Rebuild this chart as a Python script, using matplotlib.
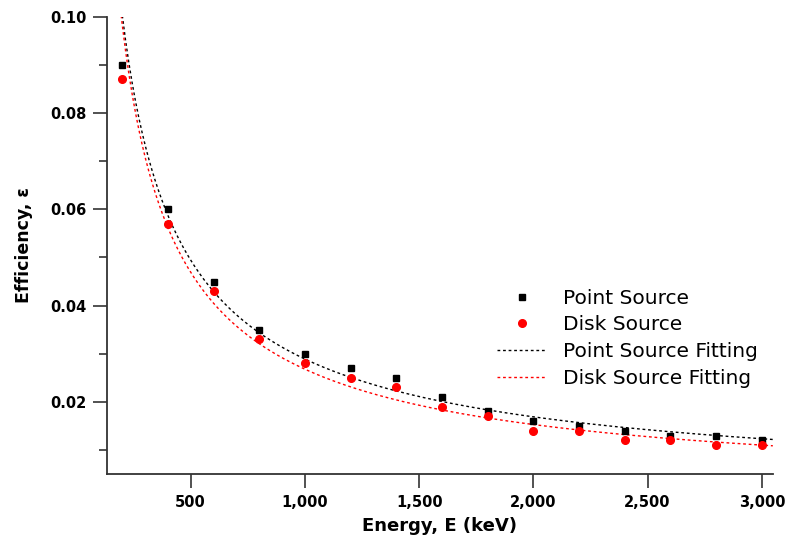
import matplotlib.pyplot as plt
import numpy as np
from matplotlib.ticker import FuncFormatter, MultipleLocator

plt.rcParams["font.family"] = ["DejaVu Sans"]

energy = [200, 400, 600, 800, 1000, 1200, 1400, 1600, 1800, 2000,
          2200, 2400, 2600, 2800, 3000]
point_eff = [0.090, 0.060, 0.045, 0.035, 0.030, 0.027, 0.025, 0.021, 0.018, 0.016,
             0.015, 0.014, 0.013, 0.013, 0.012]
disk_eff = [0.087, 0.057, 0.043, 0.033, 0.028, 0.025, 0.023, 0.019, 0.017, 0.014,
            0.014, 0.012, 0.012, 0.011, 0.011]


def power_fit(x, y):
    # least squares in log-log space: eff = a * E^b
    b, log_a = np.polyfit(np.log(x), np.log(y), 1)
    return np.exp(log_a), b


fig = plt.figure(figsize=(7.87, 5.39), dpi=100)
ax = fig.add_axes([0.136, 0.1206, 0.846, 0.848])

e_fit = np.linspace(150, 3048, 400)
for eff, color, name in [(point_eff, "black", "Point Source"),
                         (disk_eff, "red", "Disk Source")]:
    a, b = power_fit(energy, eff)
    ax.plot(e_fit, a * e_fit ** b, color=color, lw=1.0, ls=(0, (2, 2)),
            label=f"{name} Fitting", zorder=2)

ax.plot(energy, point_eff, ls="none", marker="s", ms=5, color="black",
        label="Point Source", zorder=3)
ax.plot(energy, disk_eff, ls="none", marker="o", ms=5.5, color="red",
        label="Disk Source", zorder=3)

ax.set_xlim(134, 3048)
ax.set_ylim(0.005, 0.10)
ax.yaxis.set_major_locator(MultipleLocator(0.02))
ax.yaxis.set_minor_locator(MultipleLocator(0.01))
ax.xaxis.set_major_locator(MultipleLocator(500))
ax.yaxis.set_major_formatter(FuncFormatter(lambda v, _: f"{v:.2f}"))
ax.xaxis.set_major_formatter(FuncFormatter(lambda v, _: f"{v:,.0f}"))

for side in ("top", "right"):
    ax.spines[side].set_visible(False)
for side in ("left", "bottom"):
    ax.spines[side].set_color("#333333")
    ax.spines[side].set_linewidth(1.3)
ax.tick_params(which="major", length=10, width=1.2, color="#333333", pad=5)
ax.tick_params(which="minor", length=6, width=1.2, color="#333333")
for lab in ax.get_xticklabels() + ax.get_yticklabels():
    lab.set_fontweight("bold")
    lab.set_fontsize(10.5)

ax.set_xlabel("Energy, E (keV)", fontsize=13, fontweight="bold", labelpad=5)
ax.set_ylabel("Efficiency, ε", fontsize=12.5, fontweight="bold", labelpad=12)

handles, labels = ax.get_legend_handles_labels()
order = [2, 3, 0, 1]
ax.legend([handles[i] for i in order], [labels[i] for i in order],
          loc="upper left", bbox_to_anchor=(0.6086, 0.498),
          bbox_transform=fig.transFigure, frameon=False,
          fontsize=14.5, handlelength=2.5, handletextpad=0.75, labelspacing=0.38)

fig.savefig("out.png", dpi=100)
